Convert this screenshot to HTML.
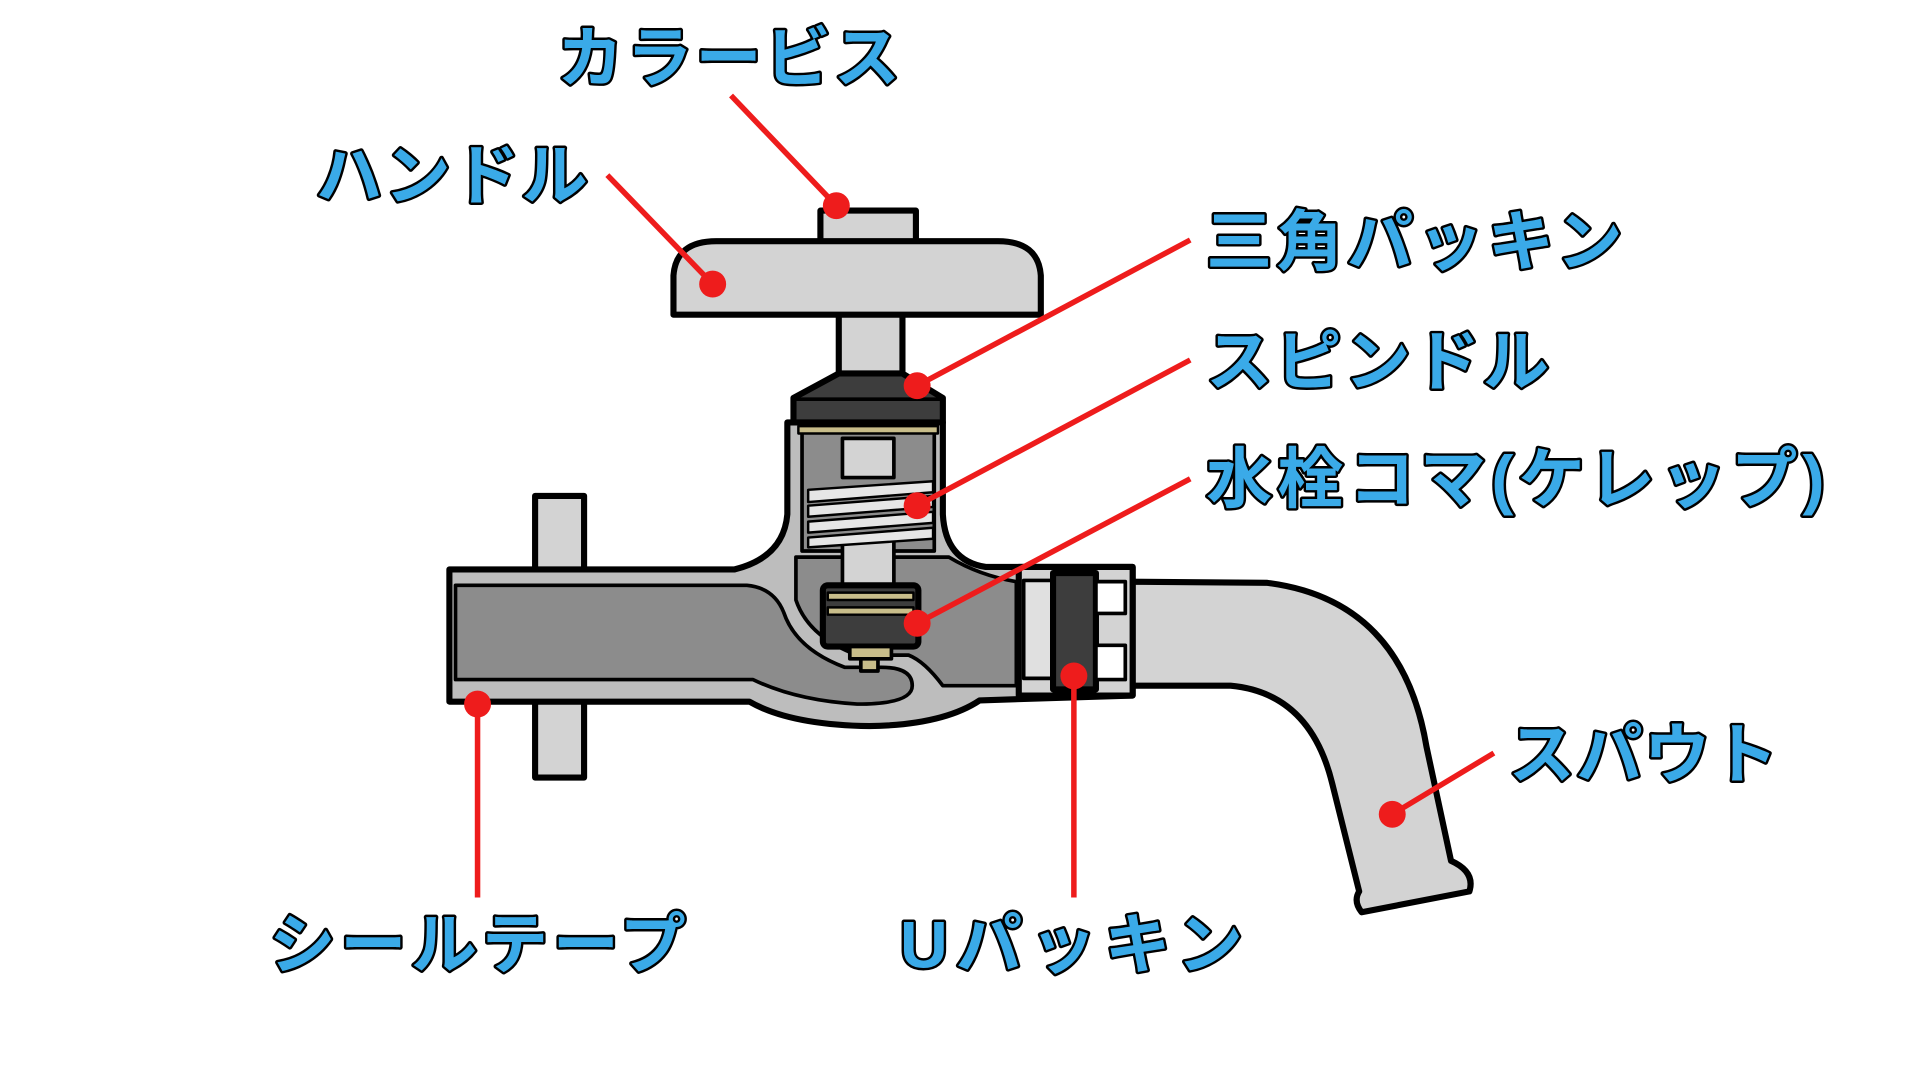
<!DOCTYPE html>
<html><head><meta charset="utf-8"><style>
html,body{margin:0;padding:0;background:#fff;}
svg{display:block;}
.t{font-family:"Liberation Sans","Noto Sans CJK JP",sans-serif;font-weight:700;font-size:54px;fill:#3aaae8;stroke:#000;stroke-width:4px;paint-order:stroke;stroke-linejoin:round;}
.ts{font-family:"Liberation Sans","Noto Sans CJK JP",sans-serif;font-weight:700;font-size:54px;fill:#5fb6e8;opacity:.6;}
</style></head><body>
<svg width="1920" height="1080" viewBox="0 0 1568 882" xmlns="http://www.w3.org/2000/svg">
<g stroke="#000" stroke-width="5" stroke-linejoin="round">
<!-- flange -->
<rect x="437" y="405" width="40" height="230" fill="#d3d3d3"/>
<!-- spout -->
<path d="M915 475 L1035 476 Q1145 490 1165 610 L1185 703 Q1205 712 1200 728 L1112 745 Q1105 736 1110 728 L1088 640 Q1070 566 1005 560 L915 560 Z" fill="#d3d3d3"/>
<!-- body -->
<path d="M367 465 L600 465 Q640 455 643 420 L643 345 L770 345 L770 420 Q772 458 805 463 L925 463 L925 568 L800 572 Q770 592 710 593 Q645 592 612 573 L367 573 Z" fill="#bdbdbd"/>
<!-- channel -->
<path d="M372 478 L610 478 Q632 480 640 500 Q650 530 690 545 L720 545 Q745 545 745 560 Q745 575 700 575 Q650 572 615 555 L372 555 Z" fill="#8c8c8c" stroke-width="3"/>
<path d="M650 455 L775 455 Q800 470 830 475 L830 560 L770 560 Q755 540 742 535 L700 535 Q660 520 650 490 Z" fill="#8c8c8c" stroke-width="3"/>
<!-- union nut -->
<rect x="832" y="463" width="93" height="105" fill="#d3d3d3"/>
<rect x="836" y="474" width="24" height="80" fill="#e0e0e0" stroke-width="3"/>
<rect x="860" y="468" width="35" height="95" fill="#3d3d3d"/>
<rect x="895" y="475" width="24" height="26" fill="#fff" stroke-width="3"/>
<rect x="895" y="527" width="24" height="28" fill="#fff" stroke-width="3"/>
<!-- bonnet internals -->
<rect x="655" y="350" width="108" height="100" fill="#8c8c8c" stroke-width="3"/>
<rect x="688" y="358" width="42" height="32" fill="#d3d3d3" stroke-width="3"/>
<rect x="688" y="440" width="42" height="40" fill="#d3d3d3" stroke-width="3"/>
<g stroke-width="2" fill="#e6e6e6">
<path d="M660 400 L762 393 L762 402 L660 410Z"/>
<path d="M660 413 L762 405 L762 414 L660 422Z"/>
<path d="M660 426 L762 418 L762 427 L660 435Z"/>
<path d="M660 439 L762 431 L762 440 L660 447Z"/>
</g>
<!-- koma -->
<rect x="672" y="478" width="78" height="50" fill="#3d3d3d" rx="4"/>
<rect x="676" y="484" width="70" height="6" fill="#c8bd8a" stroke-width="2"/>
<rect x="676" y="496" width="70" height="6" fill="#c8bd8a" stroke-width="2"/>
<rect x="694" y="528" width="34" height="10" fill="#c8bd8a" stroke-width="3"/>
<rect x="703" y="538" width="14" height="10" fill="#c8bd8a" stroke-width="3"/>
<!-- stem + handle -->
<rect x="685" y="255" width="52" height="52" fill="#d3d3d3"/>
<path d="M685 305 L737 305 L770 325 L770 345 L648 345 L648 325 Z" fill="#3d3d3d"/>
<line x1="650" y1="326" x2="768" y2="326" stroke-width="3"/>
<rect x="652" y="348" width="114" height="6" fill="#c8bd8a" stroke-width="2"/>
<rect x="670" y="172" width="78" height="27" fill="#d3d3d3"/>
<path d="M550 257 L550 225 Q552 197 585 197 L815 197 Q848 197 850 225 L850 257 Z" fill="#d3d3d3"/>
</g>
<!-- leaders -->
<g stroke="#ee1c1c" stroke-width="4.5" fill="none">
<line x1="597" y1="78" x2="683" y2="168"/>
<line x1="496" y1="143" x2="582" y2="232"/>
<line x1="972" y1="196" x2="749" y2="315"/>
<line x1="972" y1="294" x2="749" y2="413"/>
<line x1="972" y1="391" x2="749" y2="509"/>
<line x1="877" y1="552" x2="877" y2="733"/>
<line x1="390" y1="575" x2="390" y2="733"/>
<line x1="1220" y1="615" x2="1137" y2="665"/>
</g>
<g fill="#ee1c1c">
<circle cx="683" cy="168" r="11"/><circle cx="582" cy="232" r="11"/>
<circle cx="749" cy="315" r="11"/><circle cx="749" cy="413" r="11"/>
<circle cx="749" cy="509" r="11"/><circle cx="877" cy="552" r="11"/>
<circle cx="390" cy="575" r="11"/><circle cx="1137" cy="665" r="11"/>
</g>
<!-- labels -->
<text class="t" x="455" y="66" textLength="280">カラービス</text>
<text class="t" x="258" y="162" textLength="222">ハンドル</text>
<text class="t" x="985" y="216" textLength="340">三角パッキン</text>
<text class="t" x="985" y="314" textLength="280">スピンドル</text>
<text class="t" x="985" y="410" textLength="505">水栓コマ(ケレップ)</text>
<text class="t" x="1232" y="635" textLength="220">スパウト</text>
<text class="t" x="220" y="790" textLength="340">シールテープ</text>
<text class="t" x="735" y="790" textLength="280">Uパッキン</text>
</svg>
</body></html>
